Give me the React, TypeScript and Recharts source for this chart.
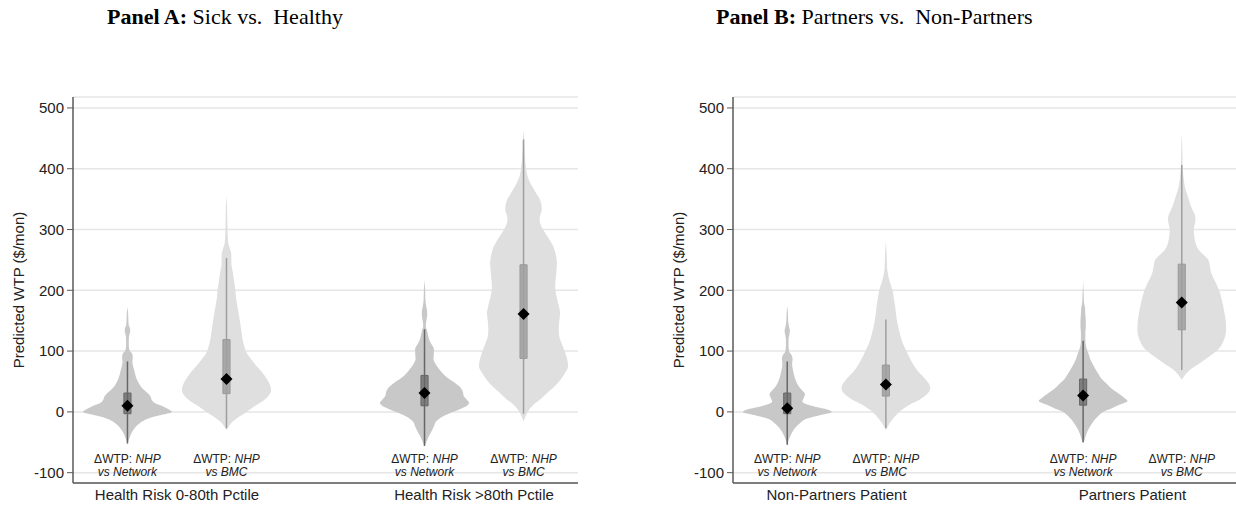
import React from 'react';
import { ComposedChart, Area, Line, Scatter, XAxis, YAxis, CartesianGrid } from 'recharts';

// y axis
const yTicks = [-100, 0, 100, 200, 300, 400, 500];
const yDomain = [-117, 518];

// x positions of the four violins and the two groups
const slots = [1, 2, 4, 5];
const groupSlots = [1.5, 4.5];
const comparisonNames = ['Network', 'BMC'];

const groupLabelsA = ['Health Risk 0-80th Pctile', 'Health Risk >80th Pctile'];
const groupLabelsB = ['Non-Partners Patient', 'Partners Patient'];

// summary stats, panel A
const meansA = [10, 54, 31, 161];
const q1A = [-3, 30, 10, 88];
const q3A = [31, 119, 60, 242];
const whiskerLoA = [-52, -27, -56, -3];
const whiskerHiA = [83, 253, 136, 448];

// summary stats, panel B
const meansB = [6, 45, 27, 180];
const q1B = [-3, 26, 11, 135];
const q3B = [31, 77, 54, 243];
const whiskerLoB = [-54, -27, -50, 69];
const whiskerHiB = [83, 152, 117, 406];

// density outlines: [WTP, relative half width]
const densityA1 = [[-54,0],[-46,0.03],[-38,0.07],[-30,0.13],[-22,0.22],[-15,0.35],[-9,0.55],[-4,0.82],[0,1.0],[4,0.93],[9,0.8],[14,0.62],[19,0.55],[25,0.52],[31,0.45],[37,0.36],[44,0.28],[52,0.22],[60,0.18],[69,0.15],[77,0.12],[83,0.11],[89,0.12],[95,0.11],[101,0.05],[108,0.03],[118,0.03],[126,0.04],[132,0.06],[137,0.06],[142,0.03],[152,0.02],[162,0.015],[172,0]];
const densityA2 = [[-30,0],[-24,0.05],[-16,0.14],[-8,0.28],[0,0.45],[9,0.62],[18,0.82],[27,0.95],[37,1.0],[47,0.96],[57,0.88],[66,0.79],[75,0.68],[85,0.57],[96,0.46],[108,0.4],[120,0.36],[135,0.33],[150,0.3],[168,0.26],[185,0.22],[200,0.2],[215,0.17],[230,0.14],[245,0.11],[258,0.11],[268,0.08],[278,0.04],[295,0.025],[320,0.018],[340,0.012],[355,0]];
const densityA3 = [[-57,0],[-48,0.05],[-41,0.09],[-33,0.15],[-24,0.21],[-15,0.27],[-8,0.4],[-2,0.58],[4,0.78],[10,0.95],[15,1.0],[20,0.95],[26,0.88],[33,0.86],[42,0.78],[50,0.64],[57,0.5],[64,0.4],[72,0.31],[80,0.24],[88,0.2],[96,0.21],[104,0.21],[111,0.16],[118,0.11],[126,0.08],[133,0.06],[141,0.03],[150,0.04],[158,0.06],[165,0.06],[173,0.04],[185,0.02],[200,0.015],[217,0]];
const densityA4 = [[-16,0],[-8,0.04],[-2,0.08],[6,0.15],[14,0.26],[22,0.4],[31,0.53],[42,0.7],[53,0.83],[64,0.93],[75,1.0],[86,0.98],[96,0.94],[110,0.87],[125,0.8],[135,0.79],[148,0.8],[162,0.82],[175,0.79],[190,0.74],[206,0.71],[225,0.73],[245,0.75],[260,0.72],[272,0.67],[285,0.57],[294,0.49],[305,0.4],[316,0.36],[325,0.38],[332,0.41],[341,0.4],[349,0.37],[360,0.28],[371,0.19],[385,0.1],[398,0.06],[420,0.03],[447,0.015],[464,0]];

const densityB1 = [[-56,0],[-47,0.03],[-38,0.08],[-28,0.16],[-19,0.28],[-11,0.45],[-5,0.75],[0,1.0],[4,0.9],[8,0.65],[12,0.45],[17,0.34],[23,0.37],[29,0.4],[35,0.34],[43,0.25],[52,0.19],[62,0.15],[72,0.12],[80,0.11],[87,0.12],[93,0.1],[100,0.04],[110,0.03],[120,0.03],[128,0.05],[134,0.06],[140,0.04],[150,0.02],[162,0.015],[174,0]];
const densityB2 = [[-30,0],[-25,0.04],[-19,0.08],[-12,0.15],[-5,0.23],[2,0.33],[9,0.47],[15,0.62],[20,0.76],[26,0.88],[31,0.95],[38,1.0],[45,0.98],[53,0.9],[61,0.8],[69,0.7],[80,0.6],[91,0.52],[102,0.45],[113,0.38],[130,0.31],[146,0.26],[160,0.23],[173,0.21],[187,0.18],[200,0.15],[211,0.1],[222,0.06],[235,0.03],[255,0.02],[270,0.01],[282,0]];
const densityB3 = [[-52,0],[-44,0.04],[-37,0.07],[-30,0.11],[-21,0.18],[-13,0.26],[-6,0.35],[0,0.45],[6,0.65],[12,0.83],[18,1.0],[23,0.93],[29,0.82],[35,0.7],[41,0.6],[47,0.52],[55,0.41],[62,0.35],[69,0.29],[78,0.22],[87,0.16],[96,0.12],[106,0.07],[118,0.05],[130,0.05],[140,0.06],[150,0.06],[160,0.05],[172,0.04],[180,0.02],[195,0.012],[214,0]];
const densityB4 = [[53,0],[58,0.05],[63,0.1],[70,0.2],[76,0.32],[83,0.46],[91,0.62],[100,0.78],[108,0.88],[115,0.93],[125,0.98],[135,1.0],[150,0.99],[168,0.95],[185,0.9],[200,0.84],[212,0.77],[222,0.7],[232,0.65],[242,0.63],[250,0.6],[258,0.5],[266,0.39],[278,0.31],[290,0.28],[299,0.27],[308,0.29],[316,0.31],[323,0.3],[331,0.25],[340,0.2],[349,0.16],[358,0.12],[367,0.08],[380,0.05],[398,0.025],[420,0.015],[440,0.01],[458,0]];

const HALF = 0.45;
const BOX_HALF = 0.036;
const SANS = 'Liberation Sans, Arial, sans-serif';
const SERIF = 'Liberation Serif, Times New Roman, serif';

const violinFill = ['#c8c8c8', '#dfdfdf'];
const boxFill = ['#7f7f7f', '#a9a9a9'];
const boxStroke = ['#666666', '#999999'];
const whiskerColor = ['#676767', '#9f9f9f'];

type PanelProps = {
  densities: number[][][];
  means: number[];
  q1: number[];
  q3: number[];
  lo: number[];
  hi: number[];
  groups: string[];
  marginLeft: number;
  marginRight: number;
};

const makeTick = (groups: string[]) => (props: any) => {
  const { x, y, payload } = props;
  const gi = groupSlots.indexOf(payload.value);
  if (gi >= 0) {
    return (
      <text x={x} y={y + 17} textAnchor="middle" fontSize={15} fill="#222" fontFamily={SANS}>
        {groups[gi]}
      </text>
    );
  }
  const si = slots.indexOf(payload.value);
  return (
    <g fontFamily={SANS} fontSize={12} fill="#222">
      <text x={x} y={y - 20} textAnchor="middle">
        <tspan>ΔWTP: </tspan>
        <tspan fontStyle="italic">NHP</tspan>
      </text>
      <text x={x} y={y - 7} textAnchor="middle" fontStyle="italic">
        vs {comparisonNames[si % 2]}
      </text>
    </g>
  );
};

const yLabel = (props: any) => {
  const { viewBox } = props;
  const x = viewBox.x + 24;
  const y = viewBox.y + viewBox.height / 2;
  return (
    <text x={x} y={y} transform={`rotate(-90, ${x}, ${y})`} textAnchor="middle" fontSize={15} fill="#222" fontFamily={SANS}>
      Predicted WTP ($/mon)
    </text>
  );
};

const Diamond = (p: any) => (
  <polygon
    points={`${p.cx},${p.cy - 6} ${p.cx + 6},${p.cy} ${p.cx},${p.cy + 6} ${p.cx - 6},${p.cy}`}
    fill="#000"
  />
);

const ViolinPanel: React.FC<PanelProps> = ({ densities, means, q1, q3, lo, hi, groups, marginLeft, marginRight }) => {
  const meanData = slots.map((s, i) => ({ pos: s, y: means[i] }));
  return (
    <ComposedChart
      width={618}
      height={506}
      layout="vertical"
      margin={{ top: 97, right: marginRight, bottom: 0, left: marginLeft }}
    >
      <CartesianGrid vertical={false} stroke="#e6e6e6" strokeWidth={1.5} />
      <XAxis
        type="number"
        domain={[0.45, 5.55]}
        allowDataOverflow
        ticks={[1, 1.5, 2, 4, 4.5, 5]}
        interval={0}
        tickSize={0}
        tickMargin={0}
        tickLine={false}
        height={23}
        axisLine={{ stroke: '#5a5a5a', strokeWidth: 1.5 }}
        tick={makeTick(groups)}
      />
      <YAxis
        type="number"
        dataKey="y"
        reversed
        domain={yDomain}
        allowDataOverflow
        ticks={yTicks}
        interval={0}
        width={73}
        tickSize={6}
        tickMargin={3}
        tickLine={{ stroke: '#5a5a5a' }}
        axisLine={{ stroke: '#5a5a5a', strokeWidth: 1.5 }}
        tick={{ fontSize: 15, fill: '#222', fontFamily: SANS }}
        label={{ content: yLabel }}
      />
      {densities.map((d, i) => (
        <Area
          key={`v${i}`}
          data={d.map(([y, w]) => ({ y, band: [slots[i] - w * HALF, slots[i] + w * HALF] }))}
          dataKey="band"
          type="monotone"
          fill={violinFill[i % 2]}
          fillOpacity={1}
          stroke="none"
          isAnimationActive={false}
        />
      ))}
      {slots.map((s, i) => (
        <Line
          key={`w${i}`}
          data={[
            { y: lo[i], pos: s },
            { y: q1[i], pos: s },
            { y: (q1[i] + q3[i]) / 2, pos: null },
            { y: q3[i], pos: s },
            { y: hi[i], pos: s },
          ]}
          dataKey="pos"
          type="linear"
          stroke={whiskerColor[i % 2]}
          strokeWidth={1.5}
          dot={false}
          isAnimationActive={false}
        />
      ))}
      {slots.map((s, i) => (
        <Area
          key={`b${i}`}
          data={[
            { y: q1[i], band: [s - BOX_HALF, s + BOX_HALF] },
            { y: q3[i], band: [s - BOX_HALF, s + BOX_HALF] },
          ]}
          dataKey="band"
          type="linear"
          fill={boxFill[i % 2]}
          fillOpacity={1}
          stroke="none"
          isAnimationActive={false}
        />
      ))}
      {slots.map((s, i) => (
        <Line
          key={`o${i}`}
          data={[
            { y: q1[i], pos: s - BOX_HALF },
            { y: q3[i], pos: s - BOX_HALF },
            { y: q3[i], pos: s + BOX_HALF },
            { y: q1[i], pos: s + BOX_HALF },
            { y: q1[i], pos: s - BOX_HALF },
          ]}
          dataKey="pos"
          type="linear"
          stroke={boxStroke[i % 2]}
          strokeWidth={1}
          dot={false}
          isAnimationActive={false}
        />
      ))}
      <Scatter data={meanData} dataKey="pos" shape={Diamond} isAnimationActive={false} />
    </ComposedChart>
  );
};

const titleStyle: React.CSSProperties = {
  position: 'absolute',
  top: 4,
  fontFamily: SERIF,
  fontSize: 22,
  lineHeight: '26px',
  whiteSpace: 'nowrap',
  color: '#000',
};

export default function App() {
  return (
    <div style={{ position: 'absolute', left: 0, top: 0, width: 1236, height: 506, background: '#fff', overflow: 'hidden' }}>
      <div style={{ ...titleStyle, left: 107 }}>
        <b>Panel A:</b> Sick vs.&nbsp; Healthy
      </div>
      <div style={{ ...titleStyle, left: 716 }}>
        <b>Panel B:</b> Partners vs.&nbsp; Non-Partners
      </div>
      <div style={{ position: 'absolute', left: 0, top: 0 }}>
        <ViolinPanel
          densities={[densityA1, densityA2, densityA3, densityA4]}
          means={meansA}
          q1={q1A}
          q3={q3A}
          lo={whiskerLoA}
          hi={whiskerHiA}
          groups={groupLabelsA}
          marginLeft={0}
          marginRight={40}
        />
      </div>
      <div style={{ position: 'absolute', left: 618, top: 0 }}>
        <ViolinPanel
          densities={[densityB1, densityB2, densityB3, densityB4]}
          means={meansB}
          q1={q1B}
          q3={q3B}
          lo={whiskerLoB}
          hi={whiskerHiB}
          groups={groupLabelsB}
          marginLeft={42}
          marginRight={0}
        />
      </div>
    </div>
  );
}
